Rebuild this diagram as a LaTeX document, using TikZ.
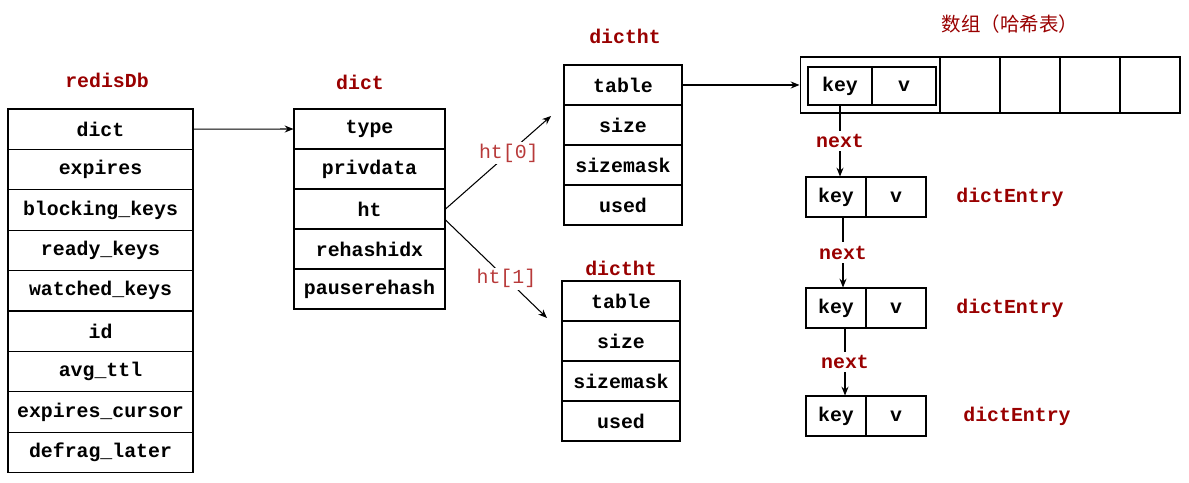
\documentclass[tikz,border=0pt]{standalone}
\usepackage{fontspec}
\setmonofont{Liberation Mono}
\newfontfamily\cjk{Noto Sans CJK SC}
\usetikzlibrary{arrows.meta, positioning, calc}
\definecolor{labelred}{HTML}{990000}
\definecolor{htred}{HTML}{B83A3A}

\tikzset{
  cell/.style={draw, line width=0.6pt, minimum width=#1, minimum height=0.8cm,
               inner sep=0pt, font=\ttfamily\bfseries\fontsize{11.3}{13}\selectfont},
  title/.style={text=labelred, font=\ttfamily\bfseries\fontsize{11.3}{13}\selectfont},
  htlabel/.style={text=htred, fill=white, inner sep=1pt, font=\ttfamily\fontsize{11.3}{13}\selectfont},
  ptr/.style={line width=0.6pt, -{Stealth[length=5pt,width=4pt]}},
}

\begin{document}
\begin{tikzpicture}[x=0.02cm, y=-0.02cm]

% Canvas
\useasboundingbox (0,0) rectangle (1189,483);
\fill[white] (0,0) rectangle (1189,483);

% === redisDb ===
\node[title] (dbtitle) at (107,80) {redisDb};
\foreach \t [count=\i] in {dict, expires, blocking\_keys, ready\_keys, watched\_keys,
                           id, avg\_ttl, expires\_cursor, defrag\_later}
  \node[cell=3.7cm, minimum height=0.808cm] (db\i) at (100.5,{109+40.4*(\i-0.5)}) {\t};

% === dict ===
\node[title] (dicttitle) at (360,82) {dict};
\node[cell=3.02cm] (type)      at (369.5,129) {type};
\node[cell=3.02cm] (privdata)  at (369.5,169) {privdata};
\node[cell=3.02cm] (ht)        at (369.5,209) {ht};
\node[cell=3.02cm] (rehashidx) at (369.5,249) {rehashidx};
\node[cell=3.02cm] (pause)     at (369.5,289) {pauserehash};

% === dictht (ht[0]) ===
\node[title] (httitleA) at (625,36) {dictht};
\node[cell=2.36cm] (tableA)    at (623,85)  {table};
\node[cell=2.36cm] (sizeA)     at (623,125) {size};
\node[cell=2.36cm] (maskA)     at (623,165) {sizemask};
\node[cell=2.36cm] (usedA)     at (623,205) {used};

% === dictht (ht[1]) ===
\node[title] (httitleB) at (621,268) {dictht};
\node[cell=2.36cm] (tableB)    at (621,301) {table};
\node[cell=2.36cm] (sizeB)     at (621,341) {size};
\node[cell=2.36cm] (maskB)     at (621,381) {sizemask};
\node[cell=2.36cm] (usedB)     at (621,421) {used};

% === bucket array ===
\node[text=labelred, font=\cjk\fontsize{11.1}{13}\selectfont] (arrtitle) at (1010,24) {数组（哈希表）};
\node[cell=2.8cm, minimum height=1.12cm] (slot0) at (870,85) {};
\node[cell=1.2cm, minimum height=1.12cm] (slot1) at (970,85) {};
\node[cell=1.2cm, minimum height=1.12cm] (slot2) at (1030,85) {};
\node[cell=1.2cm, minimum height=1.12cm] (slot3) at (1090,85) {};
\node[cell=1.2cm, minimum height=1.12cm] (slot4) at (1150,85) {};
\node[cell=1.28cm, minimum height=0.76cm] (arrkey) at (840,86) {key};
\node[cell=1.28cm, minimum height=0.76cm] (arrv)   at (904,86) {v};

% === dictEntry chain ===
\node[cell=1.2cm] (keyA) at (836,197) {key};
\node[cell=1.2cm] (vA)   at (896,197) {v};
\node[title] (entryA) at (1010,197) {dictEntry};
\node[cell=1.2cm] (keyB) at (836,308) {key};
\node[cell=1.2cm] (vB)   at (896,308) {v};
\node[title] (entryB) at (1010,308) {dictEntry};
\node[cell=1.2cm] (keyC) at (836,416) {key};
\node[cell=1.2cm] (vC)   at (896,416) {v};
\node[title] (entryC) at (1017,416) {dictEntry};

% === pointers ===
\coordinate (htendA) at (551,116);
\coordinate (htendB) at (547,318);
\draw[ptr] (db1.east) -- (type.west);
\draw[ptr] (ht.east) -- node[htlabel, pos=0.6] {ht[0]} (htendA);
\draw[ptr] ([yshift=-0.22cm]ht.east) -- node[htlabel, pos=0.6] {ht[1]} (htendB);
\draw[ptr] (tableA.east) -- (slot0.west);
\draw[ptr] (arrkey.south) -- node[title, fill=white, inner sep=2pt] {next} (arrkey.south |- keyA.north);
\draw[ptr] ([xshift=0.14cm]keyA.south) -- node[title, fill=white, inner sep=2pt] {next} ([xshift=0.14cm]keyB.north);
\draw[ptr] ([xshift=0.18cm]keyB.south) -- node[title, fill=white, inner sep=2pt] {next} ([xshift=0.18cm]keyC.north);

\end{tikzpicture}
\end{document}
